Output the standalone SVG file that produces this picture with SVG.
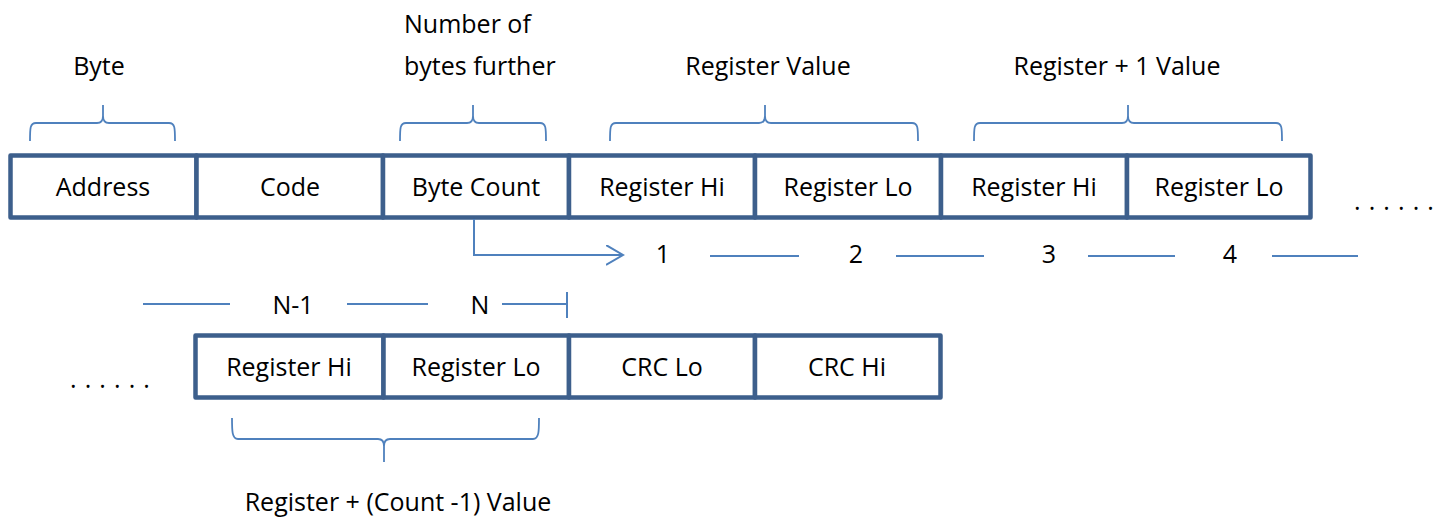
<svg xmlns="http://www.w3.org/2000/svg" width="1442" height="519" viewBox="0 0 1442 519">
<style>
.cell{fill:#ffffff;stroke:#3d5f8c;stroke-width:4.5;stroke-linejoin:round}
.t{font-family:"Open Sans","Liberation Sans",sans-serif;font-size:25px;fill:#000;text-anchor:middle}
.ts{font-family:"Open Sans","Liberation Sans",sans-serif;font-size:25px;fill:#000}
.br{fill:none;stroke:#4f81bd;stroke-width:1.8}
.ln{fill:none;stroke:#4f81bd;stroke-width:2}
</style>
<defs>
<marker id="open" markerWidth="20" markerHeight="24" refX="17" refY="10" orient="auto" markerUnits="userSpaceOnUse">
<path d="M0,0 L17,10 L0,20" fill="none" stroke="#4f81bd" stroke-width="2"/>
</marker>
</defs>
<rect width="1442" height="519" fill="#ffffff"/>

<g id="labels-top">
<text class="t" x="99" y="75">Byte</text>
<text class="ts" x="404" y="33">Number of</text>
<text class="ts" x="404" y="75">bytes further</text>
<text class="t" x="768" y="75">Register Value</text>
<text class="t" x="1117" y="75">Register + 1 Value</text>
</g>

<g id="braces">
<path class="br" d="M30,141 C30,128 30,123 36,123 L97,123 C101,123 103,121 103,116 L103,105 M103,116 C103,121 105,123 109,123 L169,123 C175,123 175,128 175,141"/>
<path class="br" d="M400,141 C400,128 400,123 406,123 L467,123 C471,123 473,121 473,116 L473,105 M473,116 C473,121 475,123 479,123 L540,123 C546,123 546,128 546,141"/>
<path class="br" d="M610,141 C610,128 610,123 616,123 L759,123 C763,123 765,121 765,116 L765,105 M765,116 C765,121 767,123 771,123 L912,123 C918,123 918,128 918,141"/>
<path class="br" d="M974,141 C974,128 974,123 980,123 L1122,123 C1126,123 1128,121 1128,116 L1128,105 M1128,116 C1128,121 1130,123 1134,123 L1276,123 C1282,123 1282,128 1282,141"/>
<path class="br" d="M232,418 C232,431 232,439 238,439 L378,439 C382,439 384,441 384,446 L384,462 M384,446 C384,441 386,439 390,439 L533,439 C539,439 539,431 539,418"/>
</g>

<g id="row1">
<g id="address"><rect class="cell" x="10.5" y="155.5" width="186" height="62"/><text class="t" x="103" y="196">Address</text></g>
<g id="code"><rect class="cell" x="196.5" y="155.5" width="186.5" height="62"/><text class="t" x="290" y="196">Code</text></g>
<g id="bytecount"><rect class="cell" x="383" y="155.5" width="186" height="62"/><text class="t" x="476" y="196">Byte Count</text></g>
<g id="reghi1"><rect class="cell" x="569" y="155.5" width="186" height="62"/><text class="t" x="662" y="196">Register Hi</text></g>
<g id="reglo1"><rect class="cell" x="755" y="155.5" width="186" height="62"/><text class="t" x="848" y="196">Register Lo</text></g>
<g id="reghi2"><rect class="cell" x="941" y="155.5" width="186" height="62"/><text class="t" x="1034" y="196">Register Hi</text></g>
<g id="reglo2"><rect class="cell" x="1127" y="155.5" width="183.5" height="62"/><text class="t" x="1219" y="196">Register Lo</text></g>
</g>
<text class="ts" x="1354" y="210" style="letter-spacing:0.8px">. . . . . .</text>

<g id="row2">
<g id="reghiN"><rect class="cell" x="195.5" y="335.5" width="188" height="62"/><text class="t" x="289" y="376">Register Hi</text></g>
<g id="regloN"><rect class="cell" x="383.5" y="335.5" width="185.5" height="62"/><text class="t" x="476" y="376">Register Lo</text></g>
<g id="crclo"><rect class="cell" x="569" y="335.5" width="186" height="62"/><text class="t" x="662" y="376">CRC Lo</text></g>
<g id="crchi"><rect class="cell" x="755" y="335.5" width="185.5" height="62"/><text class="t" x="847" y="376">CRC Hi</text></g>
</g>
<text class="ts" x="70" y="388" style="letter-spacing:0.8px">. . . . . .</text>

<g id="connectors">
<path class="ln" d="M474,219 L474,255 L623,255" marker-end="url(#open)"/>
<line class="ln" x1="710" y1="256" x2="799" y2="256"/>
<line class="ln" x1="896" y1="256" x2="984" y2="256"/>
<line class="ln" x1="1088" y1="256" x2="1175" y2="256"/>
<line class="ln" x1="1272" y1="256" x2="1358" y2="256"/>
<line class="ln" x1="143" y1="304" x2="230" y2="304"/>
<line class="ln" x1="347" y1="304" x2="428" y2="304"/>
<line class="ln" x1="502" y1="304" x2="567" y2="304"/>
<line class="ln" x1="567" y1="292" x2="567" y2="318"/>
</g>

<g id="numbers">
<text class="t" x="663" y="263">1</text>
<text class="t" x="856" y="263">2</text>
<text class="t" x="1049" y="263">3</text>
<text class="t" x="1230" y="263">4</text>
<text class="t" x="293" y="314">N-1</text>
<text class="t" x="480" y="314">N</text>
</g>

<text class="t" x="398" y="511">Register + (Count -1) Value</text>
</svg>
